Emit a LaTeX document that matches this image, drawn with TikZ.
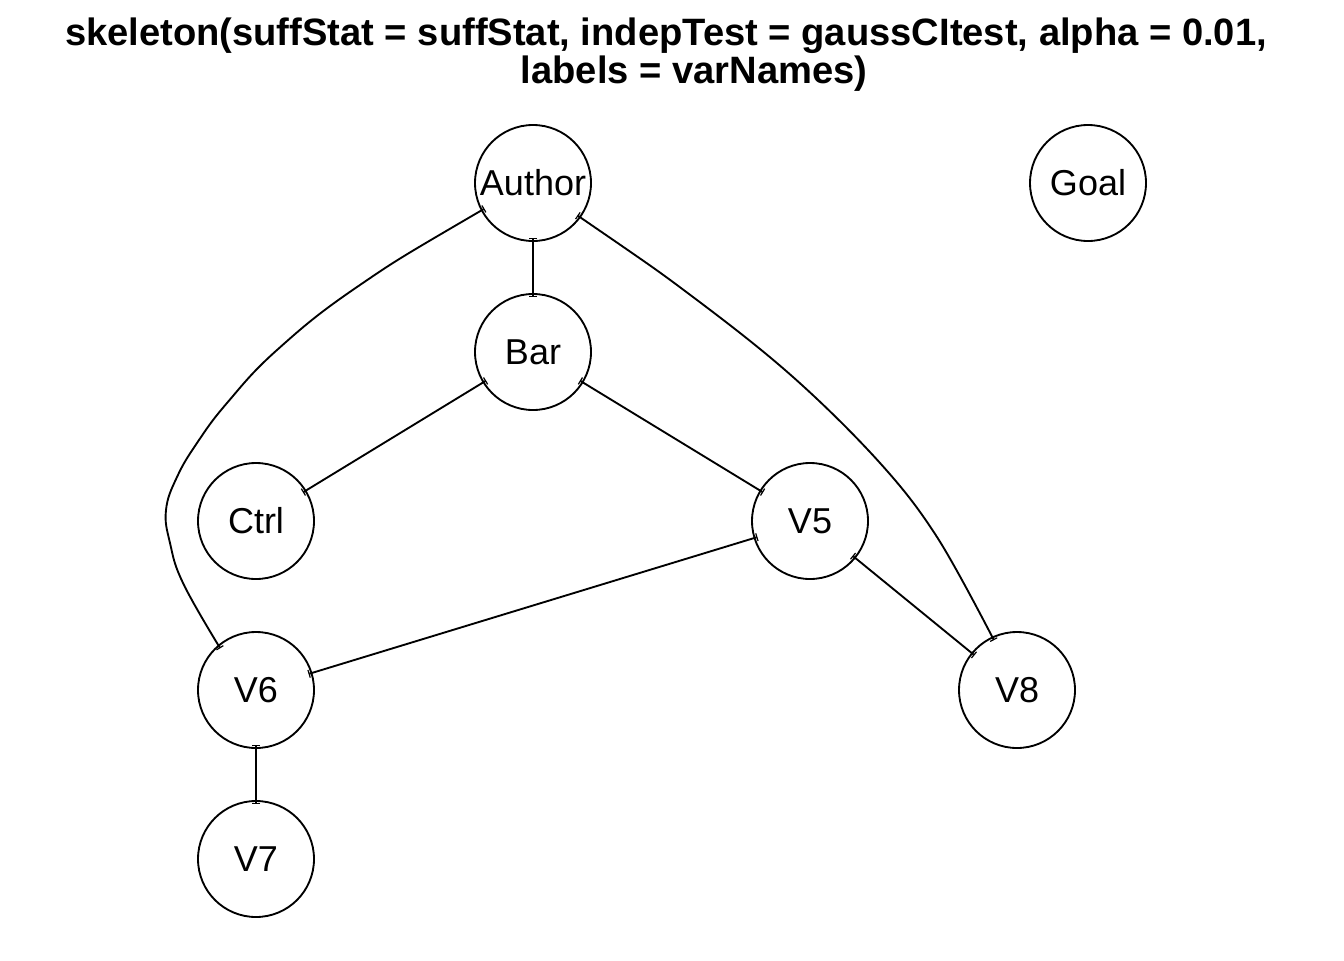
\documentclass[tikz,border=0pt]{standalone}
\usepackage{fontspec}
\setmainfont{Liberation Sans}
\usetikzlibrary{arrows.meta}
\tikzset{
    vertex/.style={circle,draw,line width=1.4pt,minimum size=87pt,inner sep=0pt,font=\fontsize{27}{27}\selectfont},
    edge/.style={line width=1.4pt,{Bar[width=6pt,line width=0.9pt]}-{Bar[width=6pt,line width=0.9pt]},shorten <=-3pt,shorten >=-3pt},
    titletext/.style={font=\bfseries\fontsize{28.6}{29.3}\selectfont,anchor=base}
}
\begin{document}
\begin{tikzpicture}[x=0.75pt,y=-0.75pt]
        \useasboundingbox (0,0) rectangle (1344,960);
        % title
        \node[titletext] (title1) at (666,45) {skeleton(suffStat = suffStat, indepTest = gaussCItest, alpha = 0.01,};
        \node[titletext] (title2) at (694,83) {labels = varNames)};

        \node[vertex] (author) at (533,183) {Author};
        \node[vertex] (goal) at (1088,183) {Goal};
        \node[vertex] (bar) at (533,352) {Bar};
        \node[vertex] (ctrl) at (256,521) {Ctrl};
        \node[vertex] (v5) at (810,521) {V5};
        \node[vertex] (v6) at (256,690) {V6};
        \node[vertex] (v8) at (1017,690) {V8};
        \node[vertex] (v7) at (256,859) {V7};

        \draw[edge] (author) -- (bar);
        \draw[edge] (bar) -- (ctrl);
        \draw[edge] (bar) -- (v5);
        \draw[edge] (v5) -- (v6);
        \draw[edge] (v5) -- (v8);
        \draw[edge] (v6) -- (v7);

        % curved edges
        \draw[edge] plot[smooth,tension=0.7] coordinates
        {(author.208) (357,287) (277,350) (227,403) (197,443) (177,477) (166,510) (170,543) (183,583) (v6.130)};
        \draw[edge] plot[smooth,tension=0.6] coordinates
        {(author.324) (693,297) (793,377) (880,463) (937,537) (v8.115)};
\end{tikzpicture}
\end{document}
